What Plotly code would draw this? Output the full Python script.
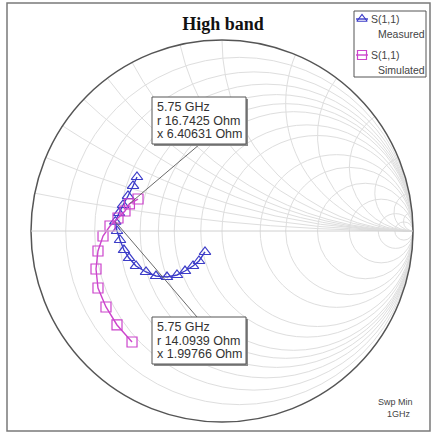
import numpy as np
import plotly.graph_objects as go

Z0 = 50.0  # reference impedance, Ohm

# S(1,1) measured: impedance in Ohm (resistance, reactance)
meas_r = [16.65, 16.50, 16.02, 15.34, 14.72, 14.0939, 14.53, 15.13, 15.80, 16.65,
          17.87, 19.89, 22.11, 25.02, 28.21, 31.27, 34.68, 37.53, 40.90]
meas_x = [13.04, 10.69, 8.11, 5.86, 3.96, 1.99766, 0.0, -2.00, -4.33, -6.34,
          -8.57, -10.73, -12.63, -14.03, -14.58, -14.26, -13.47, -12.27, -9.17]

# S(1,1) simulated: impedance in Ohm
sim_r = [18.53, 16.7425, 16.00, 14.62, 13.02, 11.60, 10.39, 9.40, 8.71, 8.62, 8.62, 8.80]
sim_x = [7.97, 6.40631, 4.58, 2.85, 1.04, -0.99, -3.83, -7.12, -10.62, -14.51, -18.61, -23.23]

# marker read-outs at 5.75 GHz
marker_freq = "5.75 GHz"
marker_upper = (16.7425, 6.40631)
marker_lower = (14.0939, 1.99766)

series_names = ["Measured", "Simulated"]
param_name = "S(1,1)"
sweep_text = ["Swp Min", "1GHz"]

res_ticks = [0.1, 0.2, 0.3, 0.4, 0.5, 0.6, 0.8, 1.0, 1.5, 2.0, 3.0, 5.0, 10.0, 20.0]
reac_ticks = [0.1, 0.2, 0.3, 0.4, 0.5, 0.6, 0.8, 1.0, 1.5, 2.0, 3.0, 5.0, 10.0, 20.0]

W, H = 431, 433
dom_x = [31 / W, 413 / W]
dom_y = [11 / H, 393 / H]

meas_col = "#3c3cc8"
sim_col = "#cc44cc"
colors = [meas_col, sim_col]
symbols = ["triangle-up-open", "square-open"]
FONT = "Liberation Sans, Arial"

fig = go.Figure()
for r_vals, x_vals, name, col, sym in zip(
        [meas_r, sim_r], [meas_x, sim_x], series_names, colors, symbols):
    fig.add_trace(go.Scattersmith(
        real=np.array(r_vals) / Z0, imag=np.array(x_vals) / Z0,
        mode="lines+markers", name=f"{param_name} {name}",
        line=dict(color=col, width=1.4),
        marker=dict(symbol=sym, size=10, color=col, line=dict(width=1.2)),
        showlegend=False,
    ))


def gamma_to_paper(r_ohm, x_ohm):
    """Reflection-plane position of an impedance, in paper units."""
    z = complex(r_ohm, x_ohm) / Z0
    g = (z - 1) / (z + 1)
    cx = (dom_x[0] + dom_x[1]) / 2
    cy = (dom_y[0] + dom_y[1]) / 2
    rx = (dom_x[1] - dom_x[0]) / 2
    ry = (dom_y[1] - dom_y[0]) / 2
    return cx + rx * g.real, cy + ry * g.imag


def px(xp, yp):
    """Pixel position (from top-left) to paper units."""
    return xp / W, 1 - yp / H


shapes = []
annotations = []


def boxed(x0, y0, x1, y1, fill):
    # drop shadow on the right/bottom, then the framed box
    sx0, sy0 = px(x0 + 2, y0 + 2)
    sx1, sy1 = px(x1 + 2, y1 + 2)
    shapes.append(dict(type="rect", xref="paper", yref="paper",
                       x0=sx0, y0=sy0, x1=sx1, y1=sy1,
                       line=dict(width=0), fillcolor="#8a8a8a" if fill else None))
    bx0, by0 = px(x0, y0)
    bx1, by1 = px(x1, y1)
    shapes.append(dict(type="rect", xref="paper", yref="paper",
                       x0=bx0, y0=by0, x1=bx1, y1=by1,
                       line=dict(color="#555555", width=1),
                       fillcolor="white" if fill else None))


def text_at(xp, yp, txt, size, color="#333333", anchor="left", family=FONT):
    tx, ty = px(xp, yp)
    annotations.append(dict(xref="paper", yref="paper", x=tx, y=ty,
                            xanchor=anchor, yanchor="middle", showarrow=False,
                            text=txt, font=dict(family=family, size=size, color=color)))


# marker read-out boxes with leader lines to the marked points
readouts = [
    (marker_upper, (152, 97), (200, 144)),
    (marker_lower, (152, 317), (197, 317)),
]
for (r_o, x_o), (bx, by), (lx, ly) in readouts:
    mx, my = gamma_to_paper(r_o, x_o)
    ax, ay = px(lx, ly)
    shapes.append(dict(type="line", xref="paper", yref="paper",
                       x0=mx, y0=my, x1=ax, y1=ay,
                       line=dict(color="#6a6a6a", width=1)))
    boxed(bx, by, bx + 94, by + 47, fill=True)
    lines = [marker_freq, f"r {r_o:g} Ohm", f"x {x_o:g} Ohm"]
    for i, ln in enumerate(lines):
        text_at(bx + 3, by + 10 + 13.5 * i, ln, 12.5)

# legend
boxed(354, 11, 426, 77, fill=False)
leg_rows = [19, 55]
for name, row in zip(series_names, leg_rows):
    text_at(369, row, param_name, 10.5, "#444444")
    text_at(376, row + 15, name, 10.5, "#444444")

# legend symbols, drawn on an invisible pixel-scaled overlay
for col, sym, row in zip(colors, symbols, leg_rows):
    fig.add_trace(go.Scatter(
        x=[356, 368], y=[row, row], mode="lines", showlegend=False, hoverinfo="skip",
        line=dict(color=col, width=1.4), xaxis="x", yaxis="y"))
    fig.add_trace(go.Scatter(
        x=[362], y=[row], mode="markers", showlegend=False, hoverinfo="skip",
        marker=dict(symbol=sym, size=9, color=col, line=dict(width=1.2)),
        xaxis="x", yaxis="y"))

# sweep information
text_at(415, 402, sweep_text[0], 9, "#444444", anchor="right")
text_at(413, 414, sweep_text[1], 9, "#444444", anchor="right")

# panel frame
fx0, fy0 = px(7, 431)
fx1, fy1 = px(430, 3)
shapes.append(dict(type="rect", xref="paper", yref="paper",
                   x0=fx0, y0=fy0, x1=fx1, y1=fy1,
                   line=dict(color="#7a7a7a", width=1.5)))

fig.update_layout(
    width=W, height=H,
    margin=dict(l=0, r=0, t=0, b=0),
    paper_bgcolor="white",
    plot_bgcolor="rgba(0,0,0,0)",
    showlegend=False,
    title=dict(text="<b>High band</b>", x=223 / W, y=1 - 24 / H,
               xanchor="center", yanchor="middle",
               font=dict(family="Liberation Serif, Times New Roman", size=18, color="#111111")),
    xaxis=dict(domain=[0, 1], range=[0, W], visible=False, fixedrange=True),
    yaxis=dict(domain=[0, 1], range=[H, 0], visible=False, fixedrange=True),
    smith=dict(
        domain=dict(x=dom_x, y=dom_y),
        bgcolor="white",
        realaxis=dict(tickvals=res_ticks, showticklabels=False, ticks="",
                      gridcolor="#dedede", gridwidth=1,
                      linecolor="#d0d0d0", linewidth=1),
        imaginaryaxis=dict(tickvals=reac_ticks, showticklabels=False, ticks="",
                           gridcolor="#dedede", gridwidth=1,
                           linecolor="#555555", linewidth=1.5),
    ),
    shapes=shapes,
    annotations=annotations,
)

fig.write_html("out.html")
